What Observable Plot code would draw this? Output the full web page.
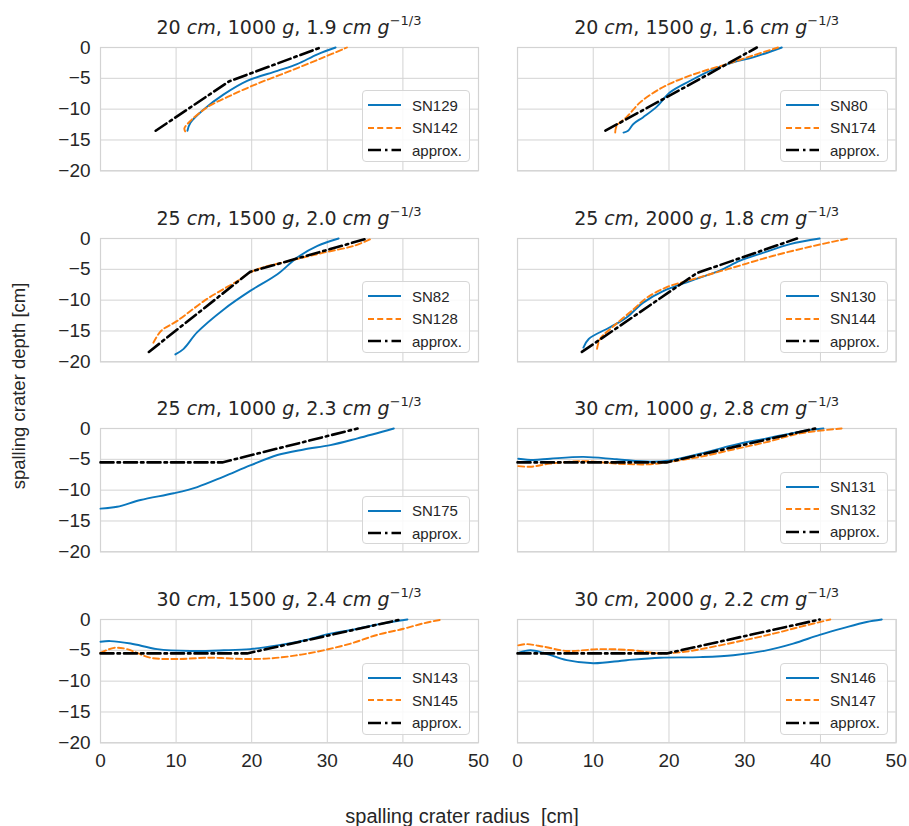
<!DOCTYPE html>
<html>
<head>
<meta charset="utf-8">
<script src="https://cdn.jsdelivr.net/npm/d3@7"></script>
<script src="https://cdn.jsdelivr.net/npm/@observablehq/plot@0.6"></script>
<style>
  body { margin: 0; background: #fff; }
  #root { position: relative; width: 909px; height: 826px; font-family: "Liberation Sans", Arial, sans-serif; color: #262626; overflow: hidden; }
  .panel { position: absolute; }
  .title { position: absolute; font-family: "DejaVu Sans", sans-serif; font-size: 19px; white-space: nowrap; transform: translateX(-50%); line-height: 1; }
  .title sup { font-size: 13px; position: relative; top: -2px; }
  .legend { position: absolute; background: rgba(255,255,255,0.85); border: 1px solid #d6d6d6; border-radius: 4px; box-sizing: border-box; padding: 3px 0 0 0; }
  .legend .row { display: flex; align-items: center; height: 22.5px; font-size: 15px; }
  .legend svg { margin-left: 5px; margin-right: 11px; }
  .ylab { position: absolute; left: 19px; top: 386px; font-size: 18.5px; transform: translate(-50%,-50%) rotate(-90deg); white-space: nowrap; }
  .xlab { position: absolute; left: 462px; top: 816px; font-size: 20px; transform: translate(-50%,-50%); white-space: pre; }
</style>
</head>
<body>
<div id="root"></div>
<script>
// ---- data (radius [cm], depth [cm]) ----
const SN129 = [[11.5,-13.5],[11.9,-12.2],[13.7,-10.0],[16.3,-7.6],[19.4,-5.4],[23.4,-3.8],[26.0,-2.7],[28.7,-1.1],[31.1,0]];
const SN142 = [[11.2,-13.6],[11.1,-13.1],[11.9,-11.9],[14.1,-9.7],[17.2,-7.8],[20.7,-5.9],[25.1,-3.8],[29.5,-1.6],[32.6,0]];
const approx1 = [[7.3,-13.5],[17.0,-5.5],[29.1,0]];

const SN80 = [[14.0,-13.8],[14.6,-13.5],[15.3,-12.4],[16.6,-11.3],[18.4,-9.6],[20.1,-7.3],[22.8,-5.4],[25.9,-3.5],[28.5,-2.4],[31.1,-1.6],[34.9,0]];
const SN174 = [[12.9,-13.8],[13.1,-12.7],[14.4,-11.3],[16.2,-8.9],[18.4,-7.0],[20.6,-5.6],[24.1,-4.0],[27.6,-2.7],[31.1,-1.3],[34.4,0]];
const approx2 = [[11.6,-13.5],[23.5,-5.5],[31.6,0]];

const SN82 = [[9.9,-18.8],[11.0,-17.9],[12.8,-15.2],[16.3,-11.5],[19.8,-8.5],[23.4,-5.8],[26.0,-3.1],[28.7,-1.2],[31.5,0]];
const SN128 = [[7.0,-16.9],[8.0,-15.0],[10.1,-13.4],[14.1,-9.8],[18.1,-6.9],[20.3,-5.2],[25.1,-3.6],[29.5,-2.3],[33.5,-1.2],[35.9,0]];
const approx3 = [[6.4,-18.4],[19.8,-5.4],[35.3,0]];

const SN130 = [[8.7,-17.7],[9.4,-16.3],[12.2,-14.4],[14.4,-12.8],[16.6,-10.4],[19.3,-8.5],[22.8,-6.9],[26.7,-5.2],[29.4,-3.6],[32.5,-2.3],[36.0,-0.9],[39.9,0]];
const SN144 = [[10.5,-17.9],[10.9,-16.3],[12.7,-14.2],[15.3,-11.5],[17.1,-9.6],[19.7,-7.9],[23.2,-6.6],[28.5,-4.7],[33.8,-2.8],[39.1,-1.2],[43.7,0]];
const approx4 = [[8.5,-18.4],[23.7,-5.6],[36.9,0]];

const SN175 = [[0,-13.0],[2.2,-12.7],[5.3,-11.6],[9.7,-10.5],[12.8,-9.5],[16.3,-7.8],[19.8,-6.0],[23.4,-4.3],[26.9,-3.4],[30.4,-2.7],[34.0,-1.6],[38.8,0]];
const approx5 = [[0,-5.5],[16.1,-5.5],[34.0,0]];

const SN131 = [[0.1,-4.9],[2.1,-5.1],[4.3,-4.9],[8.7,-4.6],[13.1,-5.0],[17.5,-5.4],[20.1,-5.2],[24.1,-4.1],[28.5,-2.7],[32.9,-1.6],[37.3,-0.5],[40.4,0]];
const SN132 = [[0.1,-6.1],[1.7,-6.2],[4.3,-5.7],[8.7,-5.3],[13.1,-5.7],[17.5,-5.8],[20.1,-5.4],[24.1,-4.6],[28.5,-3.4],[32.9,-2.2],[37.3,-0.8],[42.8,0]];
const approx6 = [[0,-5.5],[19.7,-5.5],[39.3,0]];

const SN143 = [[0,-3.6],[1.3,-3.5],[4.0,-3.9],[7.5,-4.8],[11.9,-5.1],[16.3,-5.0],[19.8,-4.8],[23.4,-4.2],[26.9,-3.4],[30.4,-2.3],[34.0,-1.5],[37.0,-0.7],[40.6,0]];
const SN145 = [[0,-5.4],[1.8,-4.6],[3.5,-4.8],[6.6,-6.2],[10.1,-6.4],[14.6,-6.2],[19.0,-6.4],[22.5,-6.3],[26.0,-5.8],[29.5,-5.0],[33.1,-3.9],[36.6,-2.5],[40.1,-1.5],[42.8,-0.6],[45.2,0]];
const approx7 = [[0,-5.5],[19.4,-5.5],[39.7,0]];

const SN146 = [[0.1,-5.4],[1.7,-5.0],[3.4,-5.4],[6.5,-6.6],[10.0,-7.1],[14.4,-6.6],[18.8,-6.2],[24.1,-6.1],[28.5,-5.8],[32.9,-5.0],[36.4,-3.9],[39.9,-2.5],[43.0,-1.4],[46.1,-0.4],[48.1,0]];
const SN147 = [[0.1,-4.2],[1.2,-4.0],[3.4,-4.4],[6.5,-5.1],[10.9,-4.8],[15.3,-5.0],[18.8,-5.5],[22.3,-5.2],[25.9,-4.4],[29.8,-3.4],[33.8,-2.3],[37.3,-1.2],[41.3,0]];
const approx8 = [[0,-5.5],[19.7,-5.5],[39.9,0]];

// panel titles: distance [cm], mass [g], scaled distance [cm g^-1/3]
const distances = ["20","20","25","25","25","30","30","30"];
const masses = ["1000","1500","1500","2000","1000","1000","1500","2000"];
const scaled = ["1.9","1.6","2.0","1.8","2.3","2.8","2.4","2.2"];

// series per panel
const panelBlue = [["SN129",SN129],["SN80",SN80],["SN82",SN82],["SN130",SN130],["SN175",SN175],["SN131",SN131],["SN143",SN143],["SN146",SN146]];
const panelOrange = [["SN142",SN142],["SN174",SN174],["SN128",SN128],["SN144",SN144],null,["SN132",SN132],["SN145",SN145],["SN147",SN147]];
const panelApprox = [approx1,approx2,approx3,approx4,approx5,approx6,approx7,approx8];

const xTicks = [0,10,20,30,40,50];
const yTicks = [0,-5,-10,-15,-20];

// ---- styles ----
const BLUE = "#0a77bd", ORANGE = "#ff7f0e", BLACK = "#000000", GRID = "#d3d3d3";
const DASH = "6,3.2", DASHDOT = "13,4,2.5,4";
const fmt = d => d < 0 ? "\u2212" + Math.abs(d) : String(d);

const root = document.getElementById("root");
const colLeft = [100, 517.3], colRight = [478, 896];
const rowTop = [46.7, 237.7, 428.3, 619.3];
const frameH = 123.3;

for (let i = 0; i < 8; i++) {
  const r = Math.floor(i / 2), c = i % 2;
  const showY = c === 0, showX = r === 3;
  const mL = showY ? 100 : 12, mR = 12, mT = 10, mB = showX ? 36 : 10;
  const fw = colRight[c] - colLeft[c];
  const W = mL + fw + mR, H = mT + frameH + mB;
  const left = colLeft[c] - mL, top = rowTop[r] - mT;

  const marks = [
    Plot.gridX(xTicks, {stroke: GRID, strokeOpacity: 1, strokeWidth: 1}),
    Plot.gridY(yTicks, {stroke: GRID, strokeOpacity: 1, strokeWidth: 1}),
    Plot.frame({stroke: GRID, strokeWidth: 1.2})
  ];
  if (showY) marks.push(Plot.axisY(yTicks, {tickSize: 0, tickPadding: 10, tickFormat: fmt, label: null, fontSize: 19}));
  if (showX) marks.push(Plot.axisX(xTicks, {tickSize: 0, tickPadding: 11, tickFormat: fmt, label: null, fontSize: 19}));
  const blue = panelBlue[i], orange = panelOrange[i];
  marks.push(Plot.line(blue[1], {x: d => d[0], y: d => d[1], stroke: BLUE, strokeWidth: 1.9, curve: "catmull-rom"}));
  if (orange) marks.push(Plot.line(orange[1], {x: d => d[0], y: d => d[1], stroke: ORANGE, strokeWidth: 1.9, strokeDasharray: DASH, curve: "catmull-rom"}));
  marks.push(Plot.line(panelApprox[i], {x: d => d[0], y: d => d[1], stroke: BLACK, strokeWidth: 2.6, strokeDasharray: DASHDOT}));

  const chart = Plot.plot({
    width: W, height: H,
    marginLeft: mL, marginRight: mR, marginTop: mT, marginBottom: mB,
    x: {domain: [0, 50], ...(showX ? {} : {axis: null})},
    y: {domain: [-20, 0], ...(showY ? {} : {axis: null})},
    style: {fontFamily: '"Liberation Sans", Arial, sans-serif', fontSize: "19px", color: "#262626", background: "transparent", overflow: "visible"},
    marks
  });
  const div = document.createElement("div");
  div.className = "panel";
  div.style.left = left + "px";
  div.style.top = top + "px";
  div.appendChild(chart);
  root.appendChild(div);

  // title
  const t = document.createElement("div");
  t.className = "title";
  t.style.left = ((colLeft[c] + colRight[c]) / 2) + "px";
  t.style.top = (rowTop[r] - 31) + "px";
  t.innerHTML = `${distances[i]} <i>cm</i>, ${masses[i]} <i>g</i>, ${scaled[i]} <i>cm</i> <i>g</i><sup>\u22121/3</sup>`;
  root.appendChild(t);

  // legend
  const entries = [[blue[0], BLUE, null, 1.9]];
  if (orange) entries.push([orange[0], ORANGE, DASH, 1.9]);
  entries.push(["approx.", BLACK, DASHDOT, 2.6]);
  const lg = document.createElement("div");
  lg.className = "legend";
  const lw = 108, lh = entries.length === 3 ? 72 : 48;
  lg.style.width = lw + "px";
  lg.style.height = lh + "px";
  lg.style.left = (colRight[c] - 8 - lw) + "px";
  lg.style.top = (rowTop[r] + frameH - 8 - lh) + "px";
  for (const [name, col, dash, sw] of entries) {
    const row = document.createElement("div");
    row.className = "row";
    row.innerHTML = `<svg width="33" height="10"><line x1="0" y1="5" x2="33" y2="5" stroke="${col}" stroke-width="${sw}" ${dash ? `stroke-dasharray="${dash}"` : ""}/></svg><span>${name}</span>`;
    lg.appendChild(row);
  }
  root.appendChild(lg);
}

const yl = document.createElement("div");
yl.className = "ylab";
yl.textContent = "spalling crater depth [cm]";
root.appendChild(yl);
const xl = document.createElement("div");
xl.className = "xlab";
xl.textContent = "spalling crater radius  [cm]";
root.appendChild(xl);
</script>
</body>
</html>
